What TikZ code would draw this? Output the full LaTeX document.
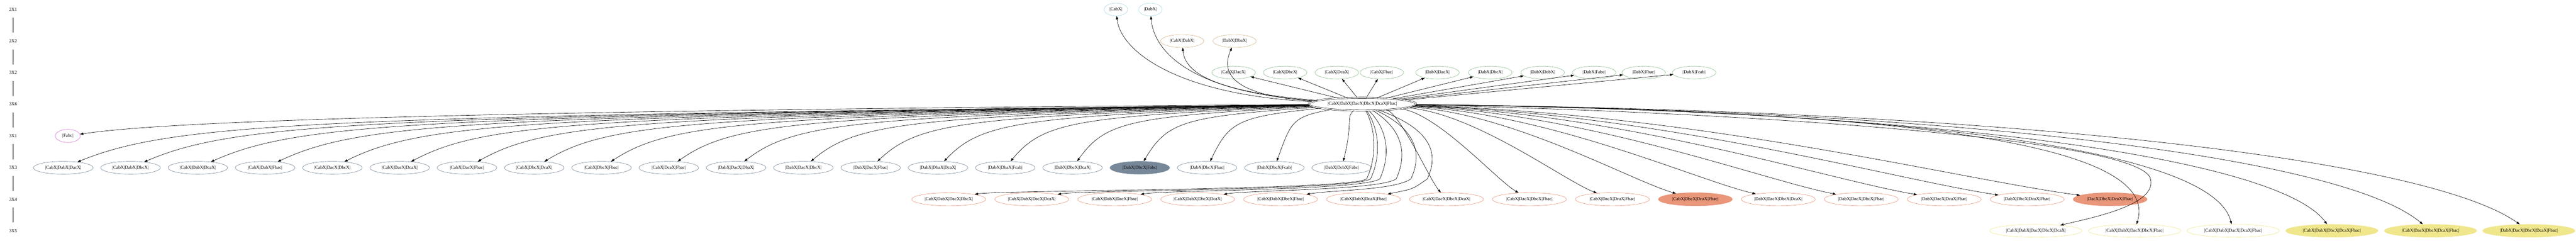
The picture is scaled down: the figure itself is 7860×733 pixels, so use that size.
\documentclass[tikz,border=0pt]{standalone}
\usepackage{fontspec}
\setmainfont{Liberation Serif}
\usetikzlibrary{shapes.geometric,arrows.meta}
\definecolor{cA}{HTML}{ADD8E6}
\definecolor{cB}{HTML}{D2B48C}
\definecolor{cC}{HTML}{8FBC8F}
\definecolor{cD}{HTML}{DA70D6}
\definecolor{cE}{HTML}{778899}
\definecolor{cF}{HTML}{E9967A}
\definecolor{cG}{HTML}{F0E68C}
\tikzset{
  base/.style={ellipse, draw, line width=1pt, inner sep=0pt, font=\fontsize{14}{16}\selectfont},
  rowA/.style={base, draw=cA, minimum width=72pt, minimum height=39pt},
  rowB/.style={base, draw=cB, minimum width=132pt, minimum height=39pt},
  rowC/.style={base, draw=cC, minimum width=133pt, minimum height=39pt},
  rowD/.style={base, draw=cD, minimum width=76pt, minimum height=40pt},
  rowE/.style={base, draw=cE, minimum width=182pt, minimum height=39pt},
  rowF/.style={base, draw=cF, minimum width=226pt, minimum height=40pt},
  rowG/.style={base, draw=cG, minimum width=282pt, minimum height=39pt},
  hubst/.style={base, draw=black, double, double distance=3pt, line width=0.9pt, minimum width=328pt, minimum height=39pt},
  lab/.style={font=\fontsize{14}{16}\selectfont, minimum height=50pt, inner sep=0pt},
  sep/.style={line width=1pt},
  edge/.style={line width=1pt, -{Triangle[length=10pt,width=7pt]}}
}
\begin{document}
\begin{tikzpicture}[x=1pt,y=-1pt]
\useasboundingbox (0,0) rectangle (7860,733);
% rank labels
\node[lab] (L1) at (40,29) {2X1};
\node[lab] (L2) at (40,125) {2X2};
\node[lab] (L3) at (40,221) {3X2};
\node[lab] (L4) at (40,317) {3X6};
\node[lab] (L5) at (40,414) {3X1};
\node[lab] (L6) at (40,511) {3X3};
\node[lab] (L7) at (40,607) {3X4};
\node[lab] (L8) at (40,703) {3X5};
\foreach \a/\b in {L1/L2,L2/L3,L3/L4,L4/L5,L5/L6,L6/L7,L7/L8} \draw[sep] (\a) -- (\b);
% hub
\node[hubst] (hub) at (4157,317) {|CabX|DabX|DacX|DbcX|DcaX|Fbac|};
% row 2X1
\node[rowA] (a0) at (3405,29) {|CabX|};
\node[rowA] (a1) at (3510,29) {|DabX|};
% row 2X2
\node[rowB] (b0) at (3607,125) {|CabX|DabX|};
\node[rowB] (b1) at (3767,125) {|DabX|DbaX|};
% row 3X2
\node[rowC] (g0) at (3764,221) {|CabX|DacX|};
\node[rowC] (g1) at (3921,221) {|CabX|DbcX|};
\node[rowC] (g2) at (4079,221) {|CabX|DcaX|};
\node[rowC] (g3) at (4216,221) {|CabX|Fbac|};
\node[rowC] (g4) at (4386,221) {|DabX|DacX|};
\node[rowC] (g5) at (4547,221) {|DabX|DbcX|};
\node[rowC] (g6) at (4707,221) {|DabX|DcbX|};
\node[rowC] (g7) at (4864,221) {|DabX|Fabc|};
\node[rowC] (g8) at (5015,221) {|DabX|Fbac|};
\node[rowC] (g9) at (5169,221) {|DabX|Fcab|};
% row 3X1
\node[rowD] (d0) at (207,414) {|Fabc|};
% row 3X3
\node[rowE] (c0) at (193.0,511) {|CabX|DabX|DacX|};
\node[rowE] (c1) at (398.3,511) {|CabX|DabX|DbcX|};
\node[rowE] (c2) at (603.6,511) {|CabX|DabX|DcaX|};
\node[rowE] (c3) at (808.9,511) {|CabX|DabX|Fbac|};
\node[rowE] (c4) at (1014.2,511) {|CabX|DacX|DbcX|};
\node[rowE] (c5) at (1219.5,511) {|CabX|DacX|DcaX|};
\node[rowE] (c6) at (1424.8,511) {|CabX|DacX|Fbac|};
\node[rowE] (c7) at (1630.1,511) {|CabX|DbcX|DcaX|};
\node[rowE] (c8) at (1835.4,511) {|CabX|DbcX|Fbac|};
\node[rowE] (c9) at (2040.7,511) {|CabX|DcaX|Fbac|};
\node[rowE] (c10) at (2246.0,511) {|DabX|DacX|DbaX|};
\node[rowE] (c11) at (2451.3,511) {|DabX|DacX|DbcX|};
\node[rowE] (c12) at (2656.6,511) {|DabX|DacX|Fbac|};
\node[rowE] (c13) at (2861.9,511) {|DabX|DbaX|DcaX|};
\node[rowE] (c14) at (3067.2,511) {|DabX|DbaX|Fcab|};
\node[rowE] (c15) at (3272.5,511) {|DabX|DbcX|DcaX|};
\node[rowE, fill=cE] (c16) at (3477.8,511) {|DabX|DbcX|Fabc|};
\node[rowE] (c17) at (3683.1,511) {|DabX|DbcX|Fbac|};
\node[rowE] (c18) at (3888.4,511) {|DabX|DbcX|Fcab|};
\node[rowE] (c19) at (4093.7,511) {|DabX|DcbX|Fabc|};
% row 3X4
\node[rowF] (f0) at (2895.0,607) {|CabX|DabX|DacX|DbcX|};
\node[rowF] (f1) at (3148.1,607) {|CabX|DabX|DacX|DcaX|};
\node[rowF] (f2) at (3401.2,607) {|CabX|DabX|DacX|Fbac|};
\node[rowF] (f3) at (3654.3,607) {|CabX|DabX|DbcX|DcaX|};
\node[rowF] (f4) at (3907.4,607) {|CabX|DabX|DbcX|Fbac|};
\node[rowF] (f5) at (4160.5,607) {|CabX|DabX|DcaX|Fbac|};
\node[rowF] (f6) at (4413.6,607) {|CabX|DacX|DbcX|DcaX|};
\node[rowF] (f7) at (4666.7,607) {|CabX|DacX|DbcX|Fbac|};
\node[rowF] (f8) at (4919.8,607) {|CabX|DacX|DcaX|Fbac|};
\node[rowF, fill=cF] (f9) at (5172.9,607) {|CabX|DbcX|DcaX|Fbac|};
\node[rowF] (f10) at (5426.0,607) {|DabX|DacX|DbcX|DcaX|};
\node[rowF] (f11) at (5679.1,607) {|DabX|DacX|DbcX|Fbac|};
\node[rowF] (f12) at (5932.2,607) {|DabX|DacX|DcaX|Fbac|};
\node[rowF] (f13) at (6185.3,607) {|DabX|DbcX|DcaX|Fbac|};
\node[rowF, fill=cF] (f14) at (6438.4,607) {|DacX|DbcX|DcaX|Fbac|};
% row 3X5
\node[rowG] (h0) at (6212,703) {|CabX|DabX|DacX|DbcX|DcaX|};
\node[rowG] (h1) at (6513,703) {|CabX|DabX|DacX|DbcX|Fbac|};
\node[rowG] (h2) at (6814,703) {|CabX|DabX|DacX|DcaX|Fbac|};
\node[rowG, fill=cG] (h3) at (7115,703) {|CabX|DabX|DbcX|DcaX|Fbac|};
\node[rowG, fill=cG] (h4) at (7416,703) {|CabX|DacX|DbcX|DcaX|Fbac|};
\node[rowG, fill=cG] (h5) at (7716,703) {|DabX|DacX|DbcX|DcaX|Fbac|};
% edges upward
\draw[edge] (hub) .. controls (3600,290) and (3420,160) .. (a0);
\draw[edge] (hub) .. controls (3620,280) and (3520,150) .. (a1);
\draw[edge] (hub) .. controls (3700,280) and (3615,220) .. (b0);
\draw[edge] (hub) .. controls (3720,290) and (3735,200) .. (b1);
\foreach \i in {0,...,9} \draw[edge] (hub) -- (g\i);
% edge to 3X1
\draw[edge] (hub) .. controls (997,340) and (444,380) .. (d0);
% edges to 3X3
\foreach \i in {0,...,19} {
  \pgfmathsetmacro\xx{193+205.3*\i}
  \pgfmathsetmacro\dx{4157-\xx}
  \pgfmathsetmacro\ca{4157-0.8*\dx}
  \pgfmathsetmacro\cb{\xx+0.08*\dx+30}
  \draw[edge] (hub) .. controls (\ca,355) and (\cb,370) .. (c\i);
}
% edges to 3X4 (left part, routed down the right side)
\foreach \i/\vx/\hy in {0/4200/579,1/4212/579,2/4240/579,3/4290/579,4/4335/579,5/4385/575} {
  \pgfmathsetmacro\xx{2895+253.1*\i}
  \pgfmathsetmacro\cc{\xx+150}
  \pgfmathsetmacro\va{\vx-30}
  \pgfmathsetmacro\vb{\vx-80}
  \draw[edge] (hub) .. controls (\vx,400) and (\vx,480) .. (\va,545) .. controls (\vb,580) and (\cc,\hy) .. (f\i);
}
% edges to 3X4 (right part)
\foreach \i in {6,...,14} {
  \pgfmathsetmacro\xx{2895+253.1*\i}
  \pgfmathsetmacro\dx{\xx-4157}
  \pgfmathsetmacro\ca{4157+0.45*\dx}
  \pgfmathsetmacro\cb{\xx-0.2*\dx}
  \draw[edge] (hub) .. controls (\ca,345) and (\cb,547) .. (f\i);
}
% edges to 3X5
\draw[edge] (hub) .. controls (5300,340) and (6500,420) .. (6560,540) .. controls (6590,620) and (6400,660) .. (h0);
\draw[edge] (hub) .. controls (5700,335) and (6600,420) .. (h1);
\draw[edge] (hub) .. controls (5800,335) and (6750,450) .. (h2);
\draw[edge] (hub) .. controls (5900,335) and (6950,480) .. (h3);
\draw[edge] (hub) .. controls (6000,335) and (7150,480) .. (h4);
\draw[edge] (hub) .. controls (6100,335) and (7400,480) .. (h5);
\end{tikzpicture}
\end{document}
